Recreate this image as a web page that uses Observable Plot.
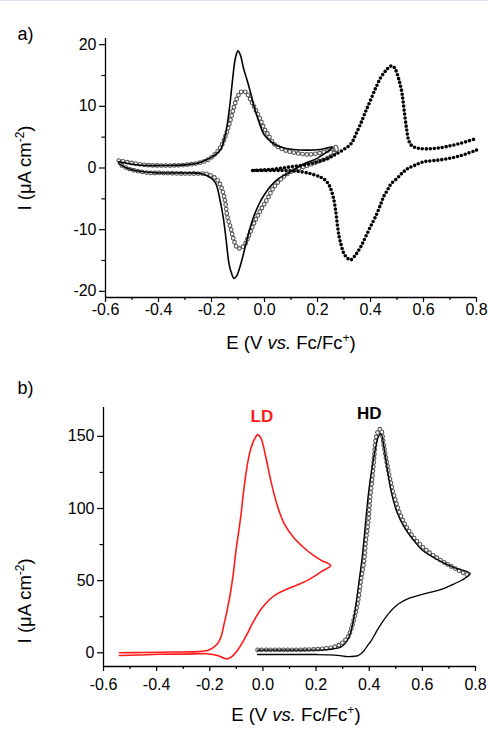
<!DOCTYPE html>
<html>
<head>
<meta charset="utf-8">
<script src="https://cdn.jsdelivr.net/npm/d3@7"></script>
<script src="https://cdn.jsdelivr.net/npm/@observablehq/plot@0.6"></script>
<style>
  html, body { margin: 0; padding: 0; background: white; }
  #topline { position: absolute; left: 0; top: 0; width: 488px; height: 1px; background: #dcdcf0; }
  svg { display: block; }
</style>
</head>
<body>
<div id="topline"></div>
<div id="chart"></div>
<script>
// ---------- Panel a data ----------
const aSolidE = [-0.55,-0.5,-0.45,-0.4,-0.3,-0.25,-0.22,-0.19,-0.165,-0.15,-0.14,-0.13,-0.12,-0.11,-0.1,-0.09,-0.08,-0.064,-0.05,-0.039,-0.025,-0.014,0,0.036,0.07,0.11,0.16,0.21,0.257,
                 0.2,0.15,0.087,0.05,0.024,0,-0.02,-0.04,-0.055,-0.07,-0.089,-0.105,-0.115,-0.125,-0.134,-0.146,-0.155,-0.165,-0.184,-0.2,-0.24,-0.3,-0.4,-0.48,-0.52,-0.55];
const aSolidI = [1.0,0.6,0.4,0.4,0.5,0.8,1.3,2.0,3.0,5.0,7.2,10.5,14.5,17.8,19.0,18.2,16.3,14.0,11.8,9.9,8.0,6.6,5.3,3.9,3.3,3.0,2.9,3.0,3.4,
                 1.6,0.7,-0.9,-1.8,-2.9,-4.3,-5.8,-7.8,-9.8,-12.3,-15.5,-17.5,-17.9,-17.0,-15.5,-11.2,-8.2,-5.8,-2.5,-1.7,-0.9,-0.8,-0.8,-0.5,0.0,0.7];

const aCircE = [-0.55,-0.5,-0.45,-0.4,-0.35,-0.3,-0.25,-0.215,-0.19,-0.165,-0.14,-0.115,-0.102,-0.09,-0.075,-0.065,-0.052,-0.039,-0.026,-0.014,0,0.011,0.036,0.07,0.1,0.162,0.225,0.275,
                0.25,0.2,0.162,0.1,0.07,0.036,0.011,-0.014,-0.039,-0.064,-0.077,-0.09,-0.102,-0.115,-0.127,-0.14,-0.152,-0.177,-0.215,-0.25,-0.3,-0.4,-0.43,-0.48,-0.52,-0.55];
const aCircI = [1.2,0.8,0.5,0.4,0.4,0.5,0.8,1.3,2.1,3.4,6.1,9.9,11.5,12.3,12.4,12.0,11.0,9.9,8.8,7.7,6.3,5.6,3.9,3.0,2.6,2.2,2.6,3.4,
                1.9,1.0,0.4,-0.6,-1.5,-3.1,-5.0,-6.8,-8.9,-11.5,-12.6,-13.0,-13.0,-11.8,-9.8,-7.9,-4.7,-2.0,-1.0,-0.9,-0.9,-0.8,-0.8,-0.5,0.0,0.7];

const aDotFwdE = [-0.045,0,0.05,0.1,0.15,0.2,0.235,0.263,0.295,0.326,0.345,0.363,0.38,0.4,0.42,0.439,0.46,0.475,0.485,0.495,0.508,0.519,0.527,0.536,0.544,0.556,0.58,0.615,0.65,0.69,0.74,0.8];
const aDotFwdI = [-0.4,-0.3,-0.1,0.2,0.5,1.0,1.5,2.1,2.9,3.9,5.5,7.2,9.0,11.0,13.0,14.7,15.9,16.5,16.5,15.9,14.2,12.1,9.3,6.4,4.5,3.6,3.2,3.1,3.2,3.5,4.0,4.8];
const aDotRevE = [0.8,0.74,0.69,0.64,0.6,0.565,0.54,0.52,0.5,0.477,0.464,0.45,0.439,0.42,0.4,0.38,0.363,0.345,0.326,0.315,0.3,0.29,0.282,0.275,0.269,0.26,0.25,0.244,0.23,0.212,0.18,0.137,0.08,0.036,-0.045];
const aDotRevI = [2.9,2.0,1.5,1.2,1.0,0.4,-0.1,-0.8,-1.7,-2.6,-3.6,-4.6,-5.8,-7.8,-9.5,-11.3,-12.8,-14.0,-14.9,-14.7,-13.9,-12.6,-11.2,-9.2,-7.1,-4.8,-3.4,-2.8,-2.0,-1.5,-1.0,-0.6,-0.4,-0.4,-0.4];

// ---------- Panel b data ----------
const bLDE = [-0.54,-0.45,-0.35,-0.25,-0.208,-0.19,-0.171,-0.158,-0.146,-0.133,-0.121,-0.11,-0.102,-0.092,-0.083,-0.074,-0.064,-0.055,-0.045,-0.032,-0.02,-0.008,0.011,0.03,0.055,0.08,0.117,0.15,0.19,0.22,0.255,
              0.22,0.19,0.168,0.14,0.11,0.08,0.055,0.03,0.01,-0.01,-0.03,-0.045,-0.058,-0.07,-0.08,-0.096,-0.115,-0.134,-0.15,-0.171,-0.208,-0.3,-0.39,-0.47,-0.54];
const bLDI = [0.0,0.2,0.5,0.8,1.6,3.2,6.2,11,20,31,43,57,70,83,95,110,124,134,142,148,151,149,135.5,119,101.5,89.5,79.5,73.5,67.5,64,60.5,
              56.3,52.6,50.2,47.8,45.6,43.3,41,37.8,34,29.5,23.5,18.5,13.5,9.5,6.2,1.6,-2.3,-4.2,-3.5,-1.9,-0.7,-0.9,-1.0,-1.5,-1.9];

const bHDE = [-0.02,0.1,0.2,0.25,0.29,0.32,0.345,0.358,0.37,0.381,0.394,0.408,0.425,0.445,0.47,0.495,0.52,0.545,0.59,0.632,0.68,0.72,0.75,0.78,
              0.72,0.667,0.6,0.567,0.535,0.505,0.485,0.467,0.455,0.445,0.435,0.425,0.415,0.4,0.39,0.381,0.372,0.362,0.352,0.343,0.333,0.324,0.31,0.293,0.243,0.15,0.05,-0.02];
const bHDI = [-1.2,-1.2,-1.2,-1.4,-2.0,-2.7,-2.4,-1.9,-0.5,1.6,5,8.5,14,20,26.5,31.6,35,37.4,40,42,44.5,47.8,50.5,55,
              59,63.5,71,78,86,97,110,128.5,143,151.6,150,143,133,115,98,80,64,50,36,24.7,16,10.8,6.5,3.9,2.2,1.9,1.8,1.8];

const bSimE = [-0.02,0.05,0.1,0.15,0.2,0.23,0.256,0.28,0.294,0.31,0.32,0.333,0.345,0.355,0.363,0.371,0.381,0.387,0.397,0.403,0.412,0.419,0.425,0.435,0.443,0.455,0.465,0.477,0.495,0.527,0.567,0.617,0.692,0.775];
const bSimI = [2.0,2.0,2.0,2.1,2.4,2.9,3.5,4.8,6.2,8.8,10.8,17,25,33,42,53,64,77,91.6,106.6,122,136.6,148,154,155,143.5,133,121.6,107.8,91.6,80,70.8,61.6,53.5];

// ---------- Axes / ticks ----------
const xTicks = [-0.6,-0.4,-0.2,0,0.2,0.4,0.6,0.8];
const xMinor = [-0.5,-0.3,-0.1,0.1,0.3,0.5,0.7];
const xDomain = [-0.6, 0.8];
const aYTicks = [-20,-10,0,10,20];
const aYMinor = [-15,-5,5,15];
const aYDomain = [-21, 21];
const bYTicks = [0,50,100,150];
const bYMinor = [25,75,125];
const bYDomain = [-9.5, 170];

const xTitle = "E (V vs. Fc/Fc+)";
const yTitle = "I (μA cm-2)";

const zip = (E, I, s) => E.map((e, i) => ({E: e, I: I[i], s}));
const FONT = "'Liberation Sans', Arial, Helvetica, sans-serif";

function openCircles(data, ring, opts = {}) {
  const common = {x: "E", y: "I", z: "s", curve: "catmull-rom", strokeDasharray: "0 4.3", strokeLinecap: "round", ...opts};
  return [
    Plot.line(data, {...common, stroke: ring, strokeWidth: 4.8}),
    Plot.line(data, {...common, stroke: "white", strokeWidth: 2.6})
  ];
}

function axes(yTicks, yMinor, yDom, xPad) {
  return [
    Plot.ruleX([xDomain[0]], {stroke: "black", strokeWidth: 1.3}),
    Plot.ruleY([yDom[0]], {stroke: "black", strokeWidth: 1.3}),
    Plot.axisX(xTicks, {tickSize: 5, tickPadding: xPad, tickFormat: d => d.toFixed(1), label: null, strokeWidth: 1.2}),
    Plot.axisX(xMinor, {tickSize: 3, tickFormat: () => "", label: null, strokeWidth: 1.2}),
    Plot.axisY(yTicks, {tickSize: 6, tickPadding: 3, tickFormat: d => String(d), label: null, strokeWidth: 1.2}),
    Plot.axisY(yMinor, {tickSize: 3.5, tickFormat: () => "", label: null, strokeWidth: 1.2})
  ];
}

const plotA = Plot.plot({
  width: 488, height: 360,
  marginTop: 38, marginBottom: 63, marginLeft: 105, marginRight: 12,
  x: {domain: xDomain}, y: {domain: aYDomain},
  style: {fontFamily: FONT, fontSize: "16px", background: "white", color: "black", overflow: "visible"},
  marks: [
    ...openCircles(zip(aCircE, aCircI, "c"), "#555"),
    Plot.line(zip(aSolidE, aSolidI, "l"), {x: "E", y: "I", curve: "catmull-rom", stroke: "black", strokeWidth: 1.6}),
    Plot.line([...zip(aDotFwdE, aDotFwdI, "f"), ...zip(aDotRevE, aDotRevI, "r")],
      {x: "E", y: "I", z: "s", curve: "catmull-rom", stroke: "black", strokeWidth: 3.6, strokeDasharray: "0 4", strokeLinecap: "round"}),
    ...axes(aYTicks, aYMinor, aYDomain, 1.5),
    Plot.text(["a)"], {frameAnchor: "top-left", dx: -88, dy: -11, textAnchor: "start", fontSize: 18}),
    Plot.text([yTitle], {x: () => xDomain[0], y: () => 0, dx: -80, rotate: -90, fontSize: 18.5}),
    Plot.text([xTitle], {x: () => 0.1, frameAnchor: "bottom", dy: 51, fontSize: 18.5})
  ]
});

const plotB = Plot.plot({
  width: 488, height: 369,
  marginTop: 47, marginBottom: 63, marginLeft: 103, marginRight: 13,
  x: {domain: xDomain}, y: {domain: bYDomain},
  style: {fontFamily: FONT, fontSize: "16px", background: "white", color: "black", overflow: "visible"},
  marks: [
    Plot.line(zip(bLDE, bLDI, "ld"), {x: "E", y: "I", curve: "catmull-rom", stroke: "#ff1a1a", strokeWidth: 1.6}),
    ...openCircles(zip(bSimE, bSimI, "sim"), "#555"),
    Plot.line(zip(bHDE, bHDI, "hd"), {x: "E", y: "I", curve: "catmull-rom", stroke: "black", strokeWidth: 1.3}),
    ...axes(bYTicks, bYMinor, bYDomain, 7),
    Plot.text(["LD"], {x: () => -0.004, y: () => 164, fill: "#ff1a1a", fontWeight: "bold", fontSize: 17}),
    Plot.text(["HD"], {x: () => 0.4, y: () => 166, fill: "black", fontWeight: "bold", fontSize: 17}),
    Plot.text(["b)"], {frameAnchor: "top-left", dx: -86, dy: -26, textAnchor: "start", fontSize: 18}),
    Plot.text([yTitle], {x: () => xDomain[0], y: () => 36, dx: -78, rotate: -90, fontSize: 18.5}),
    Plot.text([xTitle], {x: () => 0.124, frameAnchor: "bottom", dy: 54, fontSize: 18.5})
  ]
});

function richify(svg, plain, parts) {
  d3.select(svg).selectAll("text").filter(function() { return this.textContent === plain; }).each(function() {
    const t = d3.select(this);
    t.text(null);
    parts.forEach(p => {
      const s = t.append("tspan").text(p.t);
      if (p.i) s.attr("font-style", "italic");
      if (p.sup) s.attr("font-size", "12").attr("dy", "-7");
      if (p.down) s.attr("dy", "7");
    });
  });
}
for (const svg of [plotA, plotB]) {
  richify(svg, xTitle, [{t: "E (V "}, {t: "vs.", i: true}, {t: " Fc/Fc"}, {t: "+", sup: true}, {t: ")", down: true}]);
  richify(svg, yTitle, [{t: "I ("}, {t: "μ"}, {t: "A cm"}, {t: "-2", sup: true}, {t: ")", down: true}]);
}

document.getElementById("chart").append(plotA, plotB);
</script>
</body>
</html>
